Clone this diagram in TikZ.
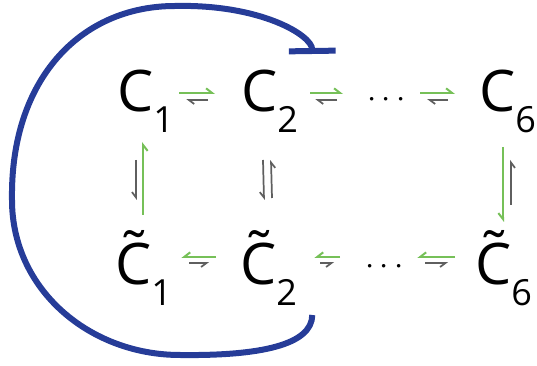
\documentclass[tikz,border=0pt]{standalone}
\usepackage{fontspec}
\setmainfont{Open Sans}
\usetikzlibrary{arrows.meta}

\definecolor{revgreen}{RGB}{118,192,88}
\definecolor{revgray}{RGB}{95,95,95}
\definecolor{loopblue}{RGB}{38,60,152}

\newcommand{\sbs}[1]{\raisebox{-15.5pt}{\fontsize{27}{27}\selectfont #1}}
\newcommand{\tldC}{\ooalign{C\cr\hidewidth\raisebox{0.22em}{\char"02DC}\hidewidth\cr}}

\tikzset{
  spec/.style={inner sep=0pt, anchor=base west, font=\fontsize{43}{43}\selectfont},
  dotsnode/.style={inner sep=0pt, anchor=base west, font=\fontsize{38}{38}\selectfont},
  gfwd/.style={draw=revgreen, line width=1.5pt, -{Straight Barb[harpoon,length=4.5pt,width=7pt]}},
  gbwd/.style={draw=revgreen, line width=1.5pt, -{Straight Barb[harpoon,swap,length=4.5pt,width=7pt]}},
  kfwd/.style={draw=revgray, line width=1.3pt, -{Straight Barb[harpoon,length=4pt,width=6pt]}},
  kbwd/.style={draw=revgray, line width=1.3pt, -{Straight Barb[harpoon,swap,length=4pt,width=6pt]}},
  inhib/.style={draw=loopblue, line width=4.5pt, -{Bar[width=35pt]}},
}

\begin{document}
\begin{tikzpicture}[x=0.75pt,y=-0.75pt]
  \useasboundingbox (0,0) rectangle (537,366);

  % top row
  \node[spec] (C1) at (117,112) {C\sbs{1}};
  \node[spec] (C2) at (241,112) {C\sbs{2}};
  \node[dotsnode] (dt) at (367,112) {\raisebox{3.2pt}{$\cdots$}};
  \node[spec] (C6) at (479,112) {C\sbs{6}};

  % bottom row
  \node[spec] (tC1) at (115,285) {\tldC\sbs{1}};
  \node[spec] (tC2) at (240,285) {\tldC\sbs{2}};
  \node[dotsnode] (db) at (365,285) {\raisebox{7.5pt}{$\cdots$}};
  \node[spec] (tC6) at (475,285) {\tldC\sbs{6}};

  % top reactions
  \draw[gfwd,shorten <=3.75pt,shorten >=19.5pt] ([yshift=14.25pt]C1.base east) -- ([yshift=14.25pt]C2.base west);
  \draw[kfwd,shorten <=24.75pt,shorten >=9pt] ([yshift=9pt]C2.base west) -- ([yshift=9pt]C1.base east);
  \draw[gfwd,shorten <=9pt,shorten >=18pt] ([yshift=14.25pt]C2.base east) -- ([yshift=14.25pt]dt.base west);
  \draw[kfwd,shorten <=22.5pt,shorten >=12.75pt] ([yshift=9pt]dt.base west) -- ([yshift=9pt]C2.base east);
  \draw[gfwd,shorten <=10.5pt,shorten >=18pt] ([yshift=14.25pt]dt.base east) -- ([yshift=14.25pt]C6.base west);
  \draw[kfwd,shorten <=23.25pt,shorten >=15.75pt] ([yshift=9pt]C6.base west) -- ([yshift=9pt]dt.base east);

  % bottom reactions
  \draw[gbwd,shorten <=18pt,shorten >=6.75pt] ([yshift=21pt]tC2.base west) -- ([yshift=21pt]tC1.base east);
  \draw[kbwd,shorten <=12.75pt,shorten >=23.25pt] ([yshift=16.5pt]tC1.base east) -- ([yshift=16.5pt]tC2.base west);
  \draw[gbwd,shorten <=18.75pt,shorten >=12.75pt] ([yshift=21pt]db.base west) -- ([yshift=21pt]tC2.base east);
  \draw[kbwd,shorten <=17.25pt,shorten >=23.25pt] ([yshift=16.5pt]tC2.base east) -- ([yshift=16.5pt]db.base west);
  \draw[gbwd,shorten <=15pt,shorten >=9.75pt] ([yshift=21pt]tC6.base west) -- ([yshift=21pt]db.base east);
  \draw[kbwd,shorten <=15.75pt,shorten >=20.25pt] ([yshift=16.5pt]db.base east) -- ([yshift=16.5pt]tC6.base west);

  % vertical reactions
  \draw[gbwd] ([xshift=21pt,yshift=52.5pt]tC1.base west) -- ([xshift=19.5pt,yshift=-22.5pt]C1.base west);
  \draw[kbwd] ([xshift=14.25pt,yshift=-36pt]C1.base west) -- ([xshift=15.75pt,yshift=63.75pt]tC1.base west);
  \draw[kbwd] ([xshift=16.5pt,yshift=-36pt]C2.base west) -- ([xshift=18pt,yshift=63.75pt]tC2.base west);
  \draw[kbwd] ([xshift=24pt,yshift=65.25pt]tC2.base west) -- ([xshift=22.5pt,yshift=-36pt]C2.base west);
  \draw[gbwd] ([xshift=18pt,yshift=-26.25pt]C6.base west) -- ([xshift=21pt,yshift=47.25pt]tC6.base west);
  \draw[kbwd] ([xshift=27pt,yshift=60pt]tC6.base west) -- ([xshift=24pt,yshift=-36pt]C6.base west);

  % feedback loop
  \draw[inhib] ([xshift=11.25pt,yshift=-22.5pt]tC2.base east)
    .. controls (312,345) and (260,356) .. (180,355)
    .. controls (90,355) and (12,290) .. (12,200)
    .. controls (10,80) and (80,6) .. (175,6)
    .. controls (260,4) and (312,35) .. ([xshift=10.5pt,yshift=43.5pt]C2.base east);
\end{tikzpicture}
\end{document}
